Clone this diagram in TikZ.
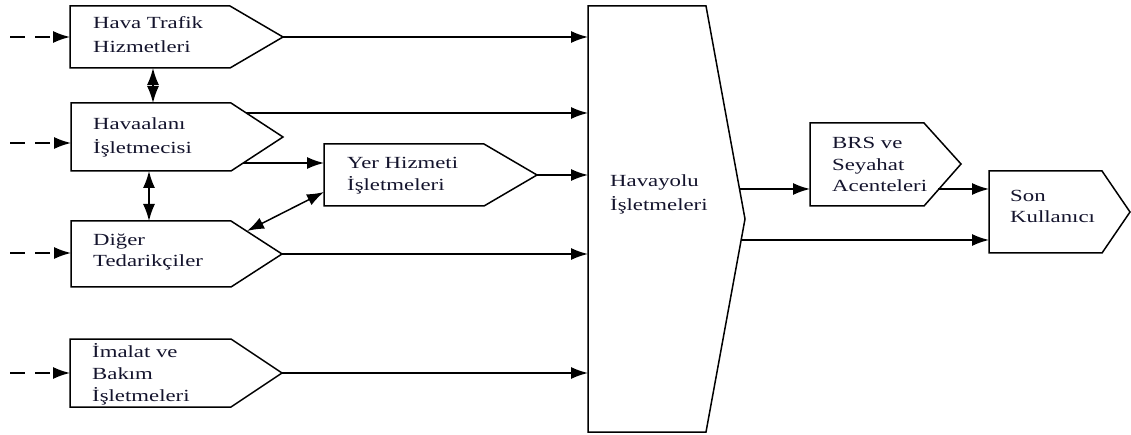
\documentclass[tikz,border=0pt]{standalone}
\usepackage{fontspec}
\setmainfont{Liberation Serif}[FakeStretch=1.34]
\usetikzlibrary{arrows.meta}
\definecolor{txtcol}{RGB}{20,20,45}
\begin{document}
\begin{tikzpicture}[x=1pt,y=-1pt,
  box/.style={draw=black,line width=1.5pt,line join=miter,fill=white},
  txt/.style={anchor=base west,inner sep=0pt,text=txtcol,font=\fontsize{17}{20}\selectfont},
  arr/.style={line width=1.5pt,-{Latex[length=17pt,width=12pt]}},
  darr/.style={line width=1.5pt,{Latex[length=17pt,width=12pt]}-{Latex[length=17pt,width=12pt]}},
  dasharr/.style={arr,dash pattern=on 15pt off 10pt}]
\useasboundingbox (0,0) rectangle (1131,435);
\fill[white] (0,0) rectangle (1131,435);

% ---- box outlines ----
\draw[box] (70,6) -- (230,6) -- (283,37) coordinate (b1tip) -- (230,68) -- (70,68) -- cycle;
\draw[box] (71,103) -- (231,103) -- (283,137) coordinate (b2tip) -- (231,171) -- (71,171) -- cycle;
\draw[box] (71,221) -- (231,221) -- (282,254) coordinate (b3tip) -- (231,287) -- (71,287) -- cycle;
\draw[box] (70,339) -- (231,339) -- (282,373) coordinate (b4tip) -- (231,407) -- (70,407) -- cycle;
\draw[box] (324,144) -- (484,144) -- (537,175) coordinate (yhtip) -- (484,206) -- (324,206) -- cycle;
\draw[box] (588,6) -- (706,6) -- (745,219) coordinate (hvtip) -- (706,432) -- (588,432) -- cycle;
\draw[box] (810,123) -- (924,123) -- (961,164) coordinate (brstip) -- (924,206) -- (810,206) -- cycle;
\draw[box] (989,171) -- (1102,171) -- (1130,212) coordinate (sontip) -- (1102,253) -- (989,253) -- cycle;

% ---- named edge points ----
\coordinate (hvL) at (588,219);
\coordinate (yhL) at (324,175);
\coordinate (sonL) at (989,212);
\coordinate (brsL) at (810,164);
\coordinate (b1L) at (70,37);
\coordinate (b2L) at (71,143);
\coordinate (b3L) at (71,253);
\coordinate (b4L) at (70,373);
\coordinate (b1B) at (153,68);
\coordinate (b2T) at (153,103);
\coordinate (b2B) at (149,171);
\coordinate (b3T) at (149,221);
\coordinate (b2up) at (246,113);
\coordinate (b2lo) at (243,163);
\coordinate (b3up) at (247,231);
\coordinate (yhlo) at (324,192);
\coordinate (hvup) at (740,189);
\coordinate (hvlo) at (741,240);
\coordinate (brslo) at (938,189);

% ---- dashed inputs ----
\draw[dasharr] (10,37) -- (b1L);
\draw[dasharr] (10,143) -- (b2L);
\draw[dasharr] (10,253) -- (b3L);
\draw[dasharr] (10,373) -- (b4L);

% ---- connectors ----
\draw[arr] (b1tip) -- (b1tip -| hvL);
\draw[arr] (b2up) -- (b2up -| hvL);
\draw[arr] (b2lo) -- (b2lo -| yhL);
\draw[arr] (yhtip) -- (yhtip -| hvL);
\draw[arr] (b3tip) -- (b3tip -| hvL);
\draw[arr] (b4tip) -- (b4tip -| hvL);
\draw[darr] (b1B) -- (b2T);
\draw[darr] (b2B) -- (b3T);
\draw[darr] (b3up) -- (yhlo);
\draw[arr] (hvup) -- (hvup -| brsL);
\draw[arr] (brslo) -- (brslo -| sonL);
\draw[arr] (hvlo) -- (hvlo -| sonL);

% ---- texts ----
\node[txt] (t1a) at (93,29) {Hava Trafik};
\node[txt] (t1b) at (93,53) {Hizmetleri};
\node[txt] (t2a) at (93,130) {Havaalanı};
\node[txt] (t2b) at (93,154) {İşletmecisi};
\node[txt] (t3a) at (93,246) {Diğer};
\node[txt] (t3b) at (93,267) {Tedarikçiler};
\node[txt] (t4a) at (92,357) {İmalat ve};
\node[txt] (t4b) at (92,379) {Bakım};
\node[txt] (t4c) at (92,401) {İşletmeleri};
\node[txt] (t5a) at (347,169) {Yer Hizmeti};
\node[txt] (t5b) at (347,191) {İşletmeleri};
\node[txt] (t6a) at (610,187) {Havayolu};
\node[txt] (t6b) at (610,211) {İşletmeleri};
\node[txt] (t7a) at (832,149) {BRS ve};
\node[txt] (t7b) at (832,171) {Seyahat};
\node[txt] (t7c) at (832,192) {Acenteleri};
\node[txt] (t8a) at (1010,202) {Son};
\node[txt] (t8b) at (1010,223) {Kullanıcı};
\end{tikzpicture}
\end{document}
